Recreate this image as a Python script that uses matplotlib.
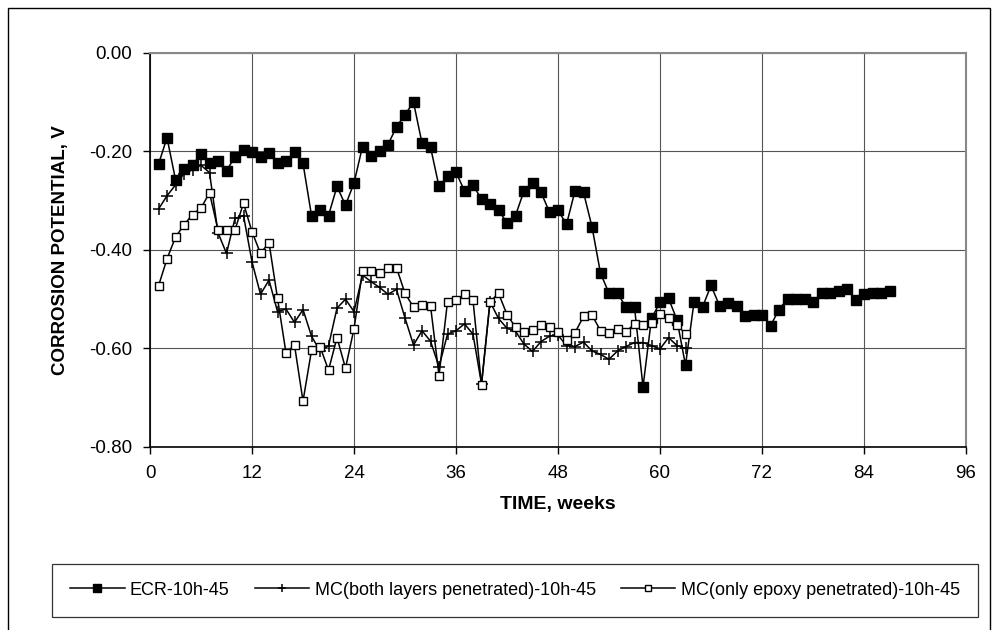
import numpy as np
import matplotlib
matplotlib.use('Agg')
import matplotlib.pyplot as plt
from matplotlib.patches import Rectangle

plt.rcParams['font.family'] = ['Liberation Sans', 'DejaVu Sans']

# Datos
weeks_ecr = list(range(1, 88))
ecr = [-0.226, -0.172, -0.257, -0.235, -0.227, -0.205, -0.224, -0.219, -0.239, -0.211,
       -0.198, -0.202, -0.211, -0.204, -0.224, -0.220, -0.201, -0.224, -0.330, -0.318,
       -0.330, -0.271, -0.309, -0.264, -0.190, -0.209, -0.200, -0.186, -0.150, -0.125,
       -0.100, -0.183, -0.191, -0.271, -0.250, -0.242, -0.280, -0.268, -0.297, -0.307,
       -0.319, -0.345, -0.330, -0.280, -0.265, -0.283, -0.323, -0.319, -0.348, -0.280,
       -0.283, -0.353, -0.447, -0.488, -0.488, -0.516, -0.516, -0.678, -0.539, -0.506,
       -0.498, -0.542, -0.634, -0.506, -0.516, -0.472, -0.513, -0.508, -0.514, -0.534,
       -0.531, -0.531, -0.554, -0.521, -0.499, -0.499, -0.499, -0.506, -0.487, -0.487,
       -0.483, -0.479, -0.502, -0.490, -0.487, -0.487, -0.483]

weeks_mc = list(range(1, 64))
mc_both = [-0.317, -0.290, -0.268, -0.245, -0.237, -0.228, -0.243, -0.365, -0.407, -0.336,
           -0.330, -0.424, -0.490, -0.461, -0.525, -0.520, -0.547, -0.521, -0.575, -0.605,
           -0.595, -0.518, -0.500, -0.525, -0.451, -0.464, -0.476, -0.490, -0.480, -0.538,
           -0.593, -0.564, -0.585, -0.637, -0.571, -0.564, -0.550, -0.571, -0.672, -0.505,
           -0.539, -0.559, -0.565, -0.591, -0.606, -0.586, -0.575, -0.573, -0.594, -0.596,
           -0.587, -0.605, -0.612, -0.622, -0.605, -0.596, -0.588, -0.588, -0.594, -0.601,
           -0.578, -0.594, -0.600]

mc_epoxy = [-0.473, -0.418, -0.374, -0.349, -0.328, -0.315, -0.284, -0.359, -0.359, -0.359,
            -0.305, -0.363, -0.407, -0.385, -0.498, -0.609, -0.593, -0.707, -0.604, -0.596,
            -0.644, -0.578, -0.640, -0.560, -0.443, -0.443, -0.447, -0.436, -0.436, -0.488,
            -0.516, -0.512, -0.513, -0.655, -0.505, -0.502, -0.490, -0.502, -0.674, -0.505,
            -0.488, -0.531, -0.557, -0.567, -0.562, -0.552, -0.557, -0.566, -0.583, -0.568,
            -0.535, -0.532, -0.564, -0.568, -0.561, -0.566, -0.550, -0.552, -0.548, -0.530,
            -0.538, -0.553, -0.570]

labels = ['ECR-10h-45', 'MC(both layers penetrated)-10h-45', 'MC(only epoxy penetrated)-10h-45']
x_ticks = [0, 12, 24, 36, 48, 60, 72, 84, 96]
y_ticks = [-0.8, -0.6, -0.4, -0.2, 0.0]
y_ticklabels = ['-0.80', '-0.60', '-0.40', '-0.20', '0.00']

fig = plt.figure(figsize=(10, 6.3), dpi=100)
ax = fig.add_axes([0.150, 0.2905, 0.816, 0.6254])

# Series
ax.plot(weeks_ecr, ecr, color='black', lw=1.1, marker='s', ms=6.5,
        mfc='black', mec='black', label=labels[0], zorder=3)
ax.plot(weeks_mc, mc_both, color='black', lw=1.1, marker='+', ms=8,
        mew=1.1, label=labels[1], zorder=3)
ax.plot(weeks_mc, mc_epoxy, color='black', lw=1.1, marker='s', ms=6,
        mfc='white', mec='black', mew=1.0, label=labels[2], zorder=3)

# Ejes
ax.set_xlim(0, 96)
ax.set_ylim(-0.8, 0.0)
ax.set_xticks(x_ticks)
ax.set_yticks(y_ticks)
ax.set_yticklabels(y_ticklabels)
ax.tick_params(direction='out', length=5, width=1, labelsize=13.5, pad=8)
ax.grid(True, color='#555555', lw=0.8)
ax.set_axisbelow(True)
for s in ['top', 'right']:
    ax.spines[s].set_color('#888888')
    ax.spines[s].set_linewidth(1.5)
for s in ['left', 'bottom']:
    ax.spines[s].set_color('black')
    ax.spines[s].set_linewidth(1.2)

ax.set_xlabel('TIME, weeks', fontsize=14, fontweight='bold', labelpad=10)
ax.set_ylabel('CORROSION POTENTIAL, V', fontsize=13.5, fontweight='bold', labelpad=14)

# Leyenda
leg = fig.legend(loc='center', bbox_to_anchor=(0.515, 0.063), ncol=3, fontsize=13,
                 frameon=True, fancybox=False, edgecolor='black', borderpad=1.0,
                 handlelength=3.0, columnspacing=1.4, handletextpad=0.3, markerscale=0.8)
leg.get_frame().set_linewidth(0.9)

# Marco exterior
fig.patches.append(Rectangle((0.008, -0.05), 0.982, 1.037, transform=fig.transFigure,
                             fill=False, edgecolor='black', lw=1.0))

fig.savefig('out.png', dpi=100)
